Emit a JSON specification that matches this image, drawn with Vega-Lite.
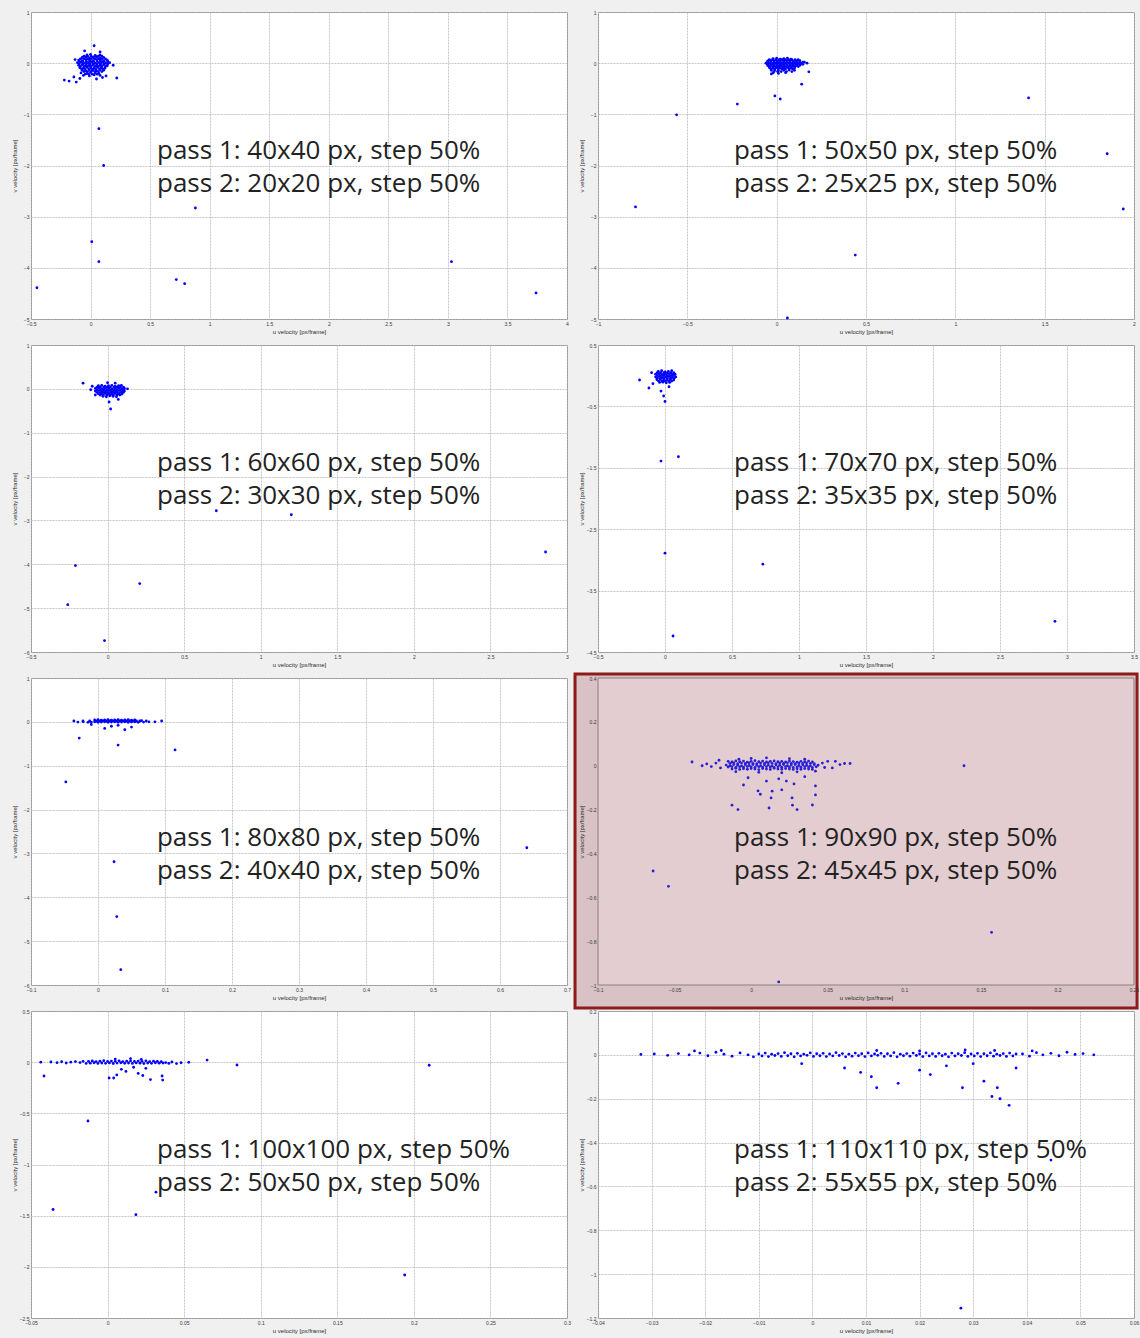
{
  "$schema": "https://vega.github.io/schema/vega-lite/v6.json",
  "background": "#f0f0f0",
  "padding": {"left": 10, "top": 9, "right": 2, "bottom": 6},
  "config": {
    "view": {"stroke": "#8c8c8c", "strokeWidth": 1, "fill": "#ffffff"},
    "axis": {
      "labelFont": "Liberation Sans", "titleFont": "Liberation Sans",
      "labelFontSize": 5, "titleFontSize": 6, "titleFontWeight": "normal",
      "labelColor": "#3a3a3a", "titleColor": "#2a2a2a",
      "domain": false, "ticks": false, "labelFlush": false, "labelOverlap": false,
      "gridColor": "#b8b8b8", "gridDash": [2, 1], "gridWidth": 0.8
    },
    "axisX": {"labelPadding": 2, "minExtent": 8, "maxExtent": 8, "titlePadding": 1},
    "axisY": {"labelPadding": 2, "minExtent": 11, "maxExtent": 11, "titlePadding": 3},
    "circle": {"size": 8, "color": "#0000ff", "opacity": 1},
    "text": {"font": "Open Sans", "fontSize": 26, "lineHeight": 33, "color": "#222222", "align": "left", "baseline": "alphabetic"}
  },
  "datasets": {
    "p1": [
      {"u":-0.03,"v":0.16},{"u":0.0,"v":0.17},{"u":0.04,"v":0.15},{"u":0.08,"v":0.16},
      {"u":-0.055,"v":0.135},{"u":-0.025,"v":0.135},{"u":0.005,"v":0.135},{"u":0.035,"v":0.135},{"u":0.065,"v":0.135},{"u":0.095,"v":0.135},
      {"u":-0.07,"v":0.11},{"u":-0.04,"v":0.12},{"u":-0.01,"v":0.1},{"u":0.02,"v":0.11},{"u":0.05,"v":0.12},{"u":0.08,"v":0.1},{"u":0.11,"v":0.11},
      {"u":-0.085,"v":0.085},{"u":-0.055,"v":0.085},{"u":-0.025,"v":0.085},{"u":0.005,"v":0.085},{"u":0.035,"v":0.085},{"u":0.065,"v":0.085},{"u":0.095,"v":0.085},{"u":0.125,"v":0.085},
      {"u":-0.1,"v":0.06},{"u":-0.07,"v":0.05},{"u":-0.04,"v":0.07},{"u":-0.01,"v":0.06},{"u":0.02,"v":0.05},{"u":0.05,"v":0.07},{"u":0.08,"v":0.06},{"u":0.11,"v":0.05},{"u":0.14,"v":0.06},
      {"u":-0.095,"v":0.035},{"u":-0.065,"v":0.035},{"u":-0.035,"v":0.035},{"u":-0.005,"v":0.035},{"u":0.025,"v":0.035},{"u":0.055,"v":0.035},{"u":0.085,"v":0.035},{"u":0.115,"v":0.035},{"u":0.145,"v":0.035},
      {"u":-0.11,"v":0.01},{"u":-0.08,"v":0.02},{"u":-0.05,"v":0.0},{"u":-0.02,"v":0.01},{"u":0.01,"v":0.02},{"u":0.04,"v":0.0},{"u":0.07,"v":0.01},{"u":0.1,"v":0.02},{"u":0.13,"v":0.0},{"u":0.16,"v":0.01},
      {"u":-0.095,"v":-0.015},{"u":-0.065,"v":-0.015},{"u":-0.035,"v":-0.015},{"u":-0.005,"v":-0.015},{"u":0.025,"v":-0.015},{"u":0.055,"v":-0.015},{"u":0.085,"v":-0.015},{"u":0.115,"v":-0.015},{"u":0.145,"v":-0.015},
      {"u":-0.1,"v":-0.04},{"u":-0.07,"v":-0.03},{"u":-0.04,"v":-0.05},{"u":-0.01,"v":-0.04},{"u":0.02,"v":-0.03},{"u":0.05,"v":-0.05},{"u":0.08,"v":-0.04},{"u":0.11,"v":-0.03},{"u":0.14,"v":-0.05},
      {"u":-0.085,"v":-0.065},{"u":-0.055,"v":-0.065},{"u":-0.025,"v":-0.065},{"u":0.005,"v":-0.065},{"u":0.035,"v":-0.065},{"u":0.065,"v":-0.065},{"u":0.095,"v":-0.065},{"u":0.125,"v":-0.065},
      {"u":-0.09,"v":-0.09},{"u":-0.06,"v":-0.1},{"u":-0.03,"v":-0.08},{"u":0.0,"v":-0.09},{"u":0.03,"v":-0.1},{"u":0.06,"v":-0.08},{"u":0.09,"v":-0.09},{"u":0.12,"v":-0.1},
      {"u":-0.075,"v":-0.115},{"u":-0.045,"v":-0.115},{"u":-0.015,"v":-0.115},{"u":0.015,"v":-0.115},{"u":0.045,"v":-0.115},{"u":0.075,"v":-0.115},{"u":0.105,"v":-0.115},
      {"u":-0.07,"v":-0.14},{"u":-0.04,"v":-0.15},{"u":-0.01,"v":-0.13},{"u":0.02,"v":-0.14},{"u":0.05,"v":-0.15},{"u":0.08,"v":-0.13},{"u":0.11,"v":-0.14},
      {"u":-0.055,"v":-0.165},{"u":-0.025,"v":-0.165},{"u":0.005,"v":-0.165},{"u":0.035,"v":-0.165},{"u":0.065,"v":-0.165},{"u":0.095,"v":-0.165},
      {"u":-0.08,"v":-0.19},{"u":-0.03,"v":-0.2},{"u":0.0,"v":-0.18},{"u":0.04,"v":-0.19},{"u":0.07,"v":-0.2},
      {"u":-0.045,"v":-0.215},{"u":-0.015,"v":-0.215},{"u":0.015,"v":-0.215},{"u":0.055,"v":-0.215},
      {"u":-0.06,"v":-0.24},{"u":-0.01,"v":-0.25},{"u":0.03,"v":-0.23},{"u":0.08,"v":-0.24},
      {"u":0.03,"v":0.34},{"u":-0.22,"v":-0.33},{"u":-0.18,"v":-0.35},{"u":-0.12,"v":-0.37},{"u":0.22,"v":-0.29},{"u":-0.14,"v":-0.27},{"u":0.13,"v":-0.25},{"u":-0.13,"v":0.07},{"u":0.19,"v":-0.04},{"u":0.08,"v":0.22},{"u":-0.05,"v":0.24},{"u":0.05,"v":-0.31},{"u":0.1,"v":-0.28},{"u":-0.09,"v":-0.3},
      {"u":0.07,"v":-1.28},{"u":0.11,"v":-2.0},{"u":0.01,"v":-3.49},{"u":0.07,"v":-3.88},{"u":0.88,"v":-2.83},{"u":0.72,"v":-4.23},{"u":0.79,"v":-4.31},{"u":-0.45,"v":-4.39},{"u":3.03,"v":-3.88},{"u":3.74,"v":-4.49}
    ],
    "p2": [
      {"u":-0.02,"v":0.09},{"u":0.0,"v":0.1},{"u":0.02,"v":0.08},{"u":0.04,"v":0.09},{"u":0.06,"v":0.1},{"u":0.08,"v":0.08},
      {"u":-0.041,"v":0.067},{"u":-0.023,"v":0.067},{"u":-0.005,"v":0.067},{"u":0.013,"v":0.067},{"u":0.031,"v":0.067},{"u":0.049,"v":0.067},{"u":0.067,"v":0.067},{"u":0.085,"v":0.067},{"u":0.103,"v":0.067},
      {"u":-0.05,"v":0.045},{"u":-0.032,"v":0.05},{"u":-0.014,"v":0.04},{"u":0.004,"v":0.045},{"u":0.022,"v":0.05},{"u":0.04,"v":0.04},{"u":0.058,"v":0.045},{"u":0.076,"v":0.05},{"u":0.094,"v":0.04},{"u":0.112,"v":0.045},{"u":0.13,"v":0.05},
      {"u":-0.051,"v":0.022},{"u":-0.033,"v":0.022},{"u":-0.015,"v":0.022},{"u":0.003,"v":0.022},{"u":0.021,"v":0.022},{"u":0.039,"v":0.022},{"u":0.057,"v":0.022},{"u":0.075,"v":0.022},{"u":0.093,"v":0.022},{"u":0.111,"v":0.022},{"u":0.129,"v":0.022},{"u":0.147,"v":0.022},
      {"u":-0.06,"v":0.0},{"u":-0.042,"v":0.005},{"u":-0.024,"v":-0.005},{"u":-0.006,"v":0.0},{"u":0.012,"v":0.005},{"u":0.03,"v":-0.005},{"u":0.048,"v":0.0},{"u":0.066,"v":0.005},{"u":0.084,"v":-0.005},{"u":0.102,"v":0.0},{"u":0.12,"v":0.005},{"u":0.138,"v":-0.005},{"u":0.155,"v":0.02},
      {"u":-0.051,"v":-0.022},{"u":-0.033,"v":-0.022},{"u":-0.015,"v":-0.022},{"u":0.003,"v":-0.022},{"u":0.021,"v":-0.022},{"u":0.039,"v":-0.022},{"u":0.057,"v":-0.022},{"u":0.075,"v":-0.022},{"u":0.093,"v":-0.022},{"u":0.111,"v":-0.022},{"u":0.129,"v":-0.022},{"u":0.147,"v":-0.022},
      {"u":-0.05,"v":-0.045},{"u":-0.032,"v":-0.04},{"u":-0.014,"v":-0.05},{"u":0.004,"v":-0.045},{"u":0.022,"v":-0.04},{"u":0.04,"v":-0.05},{"u":0.058,"v":-0.045},{"u":0.076,"v":-0.04},{"u":0.094,"v":-0.05},{"u":0.112,"v":-0.045},{"u":0.13,"v":-0.04},
      {"u":-0.041,"v":-0.067},{"u":-0.023,"v":-0.067},{"u":-0.005,"v":-0.067},{"u":0.013,"v":-0.067},{"u":0.031,"v":-0.067},{"u":0.049,"v":-0.067},{"u":0.067,"v":-0.067},{"u":0.085,"v":-0.067},{"u":0.103,"v":-0.067},{"u":0.121,"v":-0.067},
      {"u":-0.04,"v":-0.09},{"u":-0.02,"v":-0.095},{"u":0.0,"v":-0.085},{"u":0.02,"v":-0.09},{"u":0.04,"v":-0.095},{"u":0.06,"v":-0.085},{"u":0.08,"v":-0.09},{"u":0.1,"v":-0.095},
      {"u":-0.031,"v":-0.112},{"u":-0.011,"v":-0.112},{"u":0.009,"v":-0.112},{"u":0.029,"v":-0.112},{"u":0.049,"v":-0.112},{"u":0.069,"v":-0.112},{"u":0.089,"v":-0.112},
      {"u":-0.03,"v":-0.14},{"u":-0.01,"v":-0.135},{"u":0.01,"v":-0.145},{"u":0.04,"v":-0.14},{"u":0.07,"v":-0.135},{"u":0.1,"v":-0.14},
      {"u":-0.015,"v":-0.165},{"u":0.005,"v":-0.165},{"u":0.025,"v":-0.165},{"u":0.055,"v":-0.165},{"u":0.085,"v":-0.165},
      {"u":-0.02,"v":-0.19},{"u":0.01,"v":-0.2},{"u":0.05,"v":-0.185},
      {"u":0.17,"v":0.0},{"u":-0.03,"v":-0.21},{"u":0.12,"v":0.07},
      {"u":0.18,"v":-0.17},{"u":0.14,"v":-0.41},{"u":-0.01,"v":-0.64},{"u":0.02,"v":-0.7},{"u":-0.22,"v":-0.8},{"u":-0.56,"v":-1.01},{"u":-0.79,"v":-2.81},{"u":0.44,"v":-3.75},{"u":0.06,"v":-4.98},{"u":1.41,"v":-0.68},{"u":1.85,"v":-1.77},{"u":1.94,"v":-2.85}
    ],
    "p3": [
      {"u":-0.06,"v":0.07},{"u":-0.038,"v":0.08},{"u":-0.016,"v":0.06},{"u":0.006,"v":0.07},{"u":0.028,"v":0.08},{"u":0.05,"v":0.06},{"u":0.072,"v":0.07},{"u":0.09,"v":0.08},
      {"u":-0.069,"v":0.04},{"u":-0.047,"v":0.04},{"u":-0.025,"v":0.04},{"u":-0.003,"v":0.04},{"u":0.019,"v":0.04},{"u":0.041,"v":0.04},{"u":0.063,"v":0.04},{"u":0.085,"v":0.04},{"u":0.104,"v":0.04},
      {"u":-0.08,"v":0.01},{"u":-0.058,"v":0.02},{"u":-0.036,"v":0.0},{"u":-0.014,"v":0.01},{"u":0.008,"v":0.02},{"u":0.03,"v":0.0},{"u":0.052,"v":0.01},{"u":0.074,"v":0.02},{"u":0.096,"v":0.0},{"u":0.11,"v":0.01},
      {"u":-0.069,"v":-0.02},{"u":-0.047,"v":-0.02},{"u":-0.025,"v":-0.02},{"u":-0.003,"v":-0.02},{"u":0.019,"v":-0.02},{"u":0.041,"v":-0.02},{"u":0.063,"v":-0.02},{"u":0.085,"v":-0.02},{"u":0.105,"v":-0.02},
      {"u":-0.08,"v":-0.05},{"u":-0.058,"v":-0.04},{"u":-0.036,"v":-0.06},{"u":-0.014,"v":-0.05},{"u":0.008,"v":-0.04},{"u":0.03,"v":-0.06},{"u":0.052,"v":-0.05},{"u":0.074,"v":-0.04},{"u":0.096,"v":-0.06},{"u":0.11,"v":-0.05},
      {"u":-0.069,"v":-0.08},{"u":-0.047,"v":-0.08},{"u":-0.025,"v":-0.08},{"u":-0.003,"v":-0.08},{"u":0.019,"v":-0.08},{"u":0.041,"v":-0.08},{"u":0.063,"v":-0.08},{"u":0.085,"v":-0.08},{"u":0.104,"v":-0.08},
      {"u":-0.06,"v":-0.11},{"u":-0.038,"v":-0.12},{"u":-0.016,"v":-0.1},{"u":0.006,"v":-0.11},{"u":0.028,"v":-0.12},{"u":0.05,"v":-0.1},{"u":0.072,"v":-0.11},{"u":0.094,"v":-0.12},
      {"u":-0.049,"v":-0.14},{"u":-0.027,"v":-0.14},{"u":-0.005,"v":-0.14},{"u":0.017,"v":-0.14},{"u":0.039,"v":-0.14},{"u":0.061,"v":-0.14},{"u":0.08,"v":-0.14},
      {"u":-0.03,"v":-0.17},{"u":-0.008,"v":-0.18},{"u":0.014,"v":-0.16},{"u":0.036,"v":-0.17},{"u":0.058,"v":-0.18},
      {"u":-0.16,"v":0.13},{"u":-0.11,"v":-0.02},{"u":0.13,"v":0.0},{"u":-0.08,"v":-0.14},{"u":0.01,"v":-0.3},{"u":0.02,"v":-0.46},{"u":0.07,"v":-0.24},{"u":0.0,"v":0.14},{"u":0.05,"v":0.13},{"u":-0.1,"v":0.06},
      {"u":0.71,"v":-2.78},{"u":1.2,"v":-2.87},{"u":-0.21,"v":-4.03},{"u":0.21,"v":-4.44},{"u":-0.26,"v":-4.92},{"u":-0.02,"v":-5.74},{"u":2.86,"v":-3.72}
    ],
    "p4": [
      {"u":-0.05,"v":0.07},{"u":-0.025,"v":0.08},{"u":0.0,"v":0.06},{"u":0.025,"v":0.07},{"u":0.05,"v":0.08},
      {"u":-0.058,"v":0.048},{"u":-0.033,"v":0.048},{"u":-0.008,"v":0.048},{"u":0.018,"v":0.048},{"u":0.043,"v":0.048},{"u":0.065,"v":0.048},
      {"u":-0.07,"v":0.025},{"u":-0.045,"v":0.03},{"u":-0.02,"v":0.02},{"u":0.005,"v":0.025},{"u":0.03,"v":0.03},{"u":0.055,"v":0.02},{"u":0.075,"v":0.025},
      {"u":-0.058,"v":0.002},{"u":-0.033,"v":0.002},{"u":-0.008,"v":0.002},{"u":0.018,"v":0.002},{"u":0.043,"v":0.002},{"u":0.068,"v":0.002},
      {"u":-0.07,"v":-0.02},{"u":-0.045,"v":-0.015},{"u":-0.02,"v":-0.025},{"u":0.005,"v":-0.02},{"u":0.03,"v":-0.015},{"u":0.055,"v":-0.025},{"u":0.08,"v":-0.02},
      {"u":-0.058,"v":-0.043},{"u":-0.033,"v":-0.043},{"u":-0.008,"v":-0.043},{"u":0.018,"v":-0.043},{"u":0.043,"v":-0.043},{"u":0.068,"v":-0.043},
      {"u":-0.06,"v":-0.065},{"u":-0.035,"v":-0.06},{"u":-0.01,"v":-0.07},{"u":0.015,"v":-0.065},{"u":0.04,"v":-0.06},{"u":0.065,"v":-0.07},
      {"u":-0.048,"v":-0.088},{"u":-0.023,"v":-0.088},{"u":0.003,"v":-0.088},{"u":0.028,"v":-0.088},{"u":0.05,"v":-0.088},
      {"u":-0.04,"v":-0.11},{"u":-0.015,"v":-0.105},{"u":0.01,"v":-0.115},{"u":0.035,"v":-0.11},
      {"u":-0.19,"v":-0.07},{"u":-0.12,"v":-0.2},{"u":-0.03,"v":-0.25},{"u":-0.01,"v":-0.33},{"u":0.03,"v":-0.18},{"u":-0.09,"v":-0.13},{"u":0.0,"v":-0.42},{"u":-0.1,"v":0.05},
      {"u":-0.03,"v":-1.39},{"u":0.1,"v":-1.32},{"u":0.0,"v":-2.89},{"u":0.06,"v":-4.24},{"u":0.73,"v":-3.07},{"u":2.91,"v":-4.0}
    ],
    "p5": [
      {"u":-0.005,"v":0.045},{"u":0.0,"v":0.05},{"u":0.005,"v":0.04},{"u":0.01,"v":0.045},{"u":0.015,"v":0.05},{"u":0.02,"v":0.04},{"u":0.025,"v":0.045},{"u":0.03,"v":0.05},{"u":0.035,"v":0.04},{"u":0.04,"v":0.045},{"u":0.045,"v":0.05},{"u":0.05,"v":0.04},{"u":0.055,"v":0.045},
      {"u":-0.0225,"v":0.02},{"u":-0.0125,"v":0.02},{"u":-0.0025,"v":0.02},{"u":0.0025,"v":0.02},{"u":0.0075,"v":0.02},{"u":0.0125,"v":0.02},{"u":0.0175,"v":0.02},{"u":0.0225,"v":0.02},{"u":0.0275,"v":0.02},{"u":0.0325,"v":0.02},{"u":0.0375,"v":0.02},{"u":0.0425,"v":0.02},{"u":0.0475,"v":0.02},{"u":0.0525,"v":0.02},{"u":0.0575,"v":0.02},{"u":0.0625,"v":0.02},{"u":0.072,"v":0.02},
      {"u":-0.03,"v":-0.005},{"u":-0.022,"v":0.0},{"u":-0.015,"v":-0.01},{"u":-0.01,"v":-0.005},{"u":-0.005,"v":0.0},{"u":0.0,"v":-0.01},{"u":0.005,"v":-0.005},{"u":0.01,"v":0.0},{"u":0.015,"v":-0.01},{"u":0.02,"v":-0.005},{"u":0.025,"v":0.0},{"u":0.03,"v":-0.01},{"u":0.035,"v":-0.005},{"u":0.04,"v":0.0},{"u":0.045,"v":-0.01},{"u":0.05,"v":-0.005},{"u":0.055,"v":0.0},{"u":0.06,"v":-0.01},{"u":0.068,"v":-0.005},{"u":0.076,"v":0.0},
      {"u":-0.036,"v":0.02},{"u":0.095,"v":0.02},{"u":0.065,"v":0.03},{"u":0.085,"v":0.0},{"u":0.01,"v":-0.15},{"u":0.04,"v":-0.18},{"u":0.02,"v":-0.1},{"u":0.05,"v":-0.12},{"u":0.03,"v":-0.08},{"u":-0.01,"v":-0.06},
      {"u":-0.028,"v":-0.37},{"u":0.03,"v":-0.53},{"u":0.115,"v":-0.64},{"u":-0.048,"v":-1.37},{"u":0.024,"v":-3.19},{"u":0.028,"v":-4.44},{"u":0.034,"v":-5.65},{"u":0.64,"v":-2.87}
    ],
    "p6": [
      {"u":-0.015,"v":0.02},{"u":-0.0125,"v":0.017},{"u":-0.01,"v":0.022},{"u":-0.0075,"v":0.018},{"u":-0.005,"v":0.021},{"u":-0.0025,"v":0.016},{"u":0.0,"v":0.02},{"u":0.0025,"v":0.023},{"u":0.005,"v":0.018},{"u":0.0075,"v":0.021},{"u":0.01,"v":0.017},{"u":0.0125,"v":0.02},{"u":0.015,"v":0.022},{"u":0.0175,"v":0.018},{"u":0.02,"v":0.02},{"u":0.0225,"v":0.017},{"u":0.025,"v":0.021},{"u":0.0275,"v":0.019},{"u":0.03,"v":0.016},{"u":0.0325,"v":0.02},{"u":0.035,"v":0.018},{"u":0.0375,"v":0.021},{"u":0.04,"v":0.017},
      {"u":-0.0138,"v":0.011},{"u":-0.0113,"v":0.013},{"u":-0.0088,"v":0.009},{"u":-0.0063,"v":0.012},{"u":-0.0038,"v":0.01},{"u":-0.0013,"v":0.013},{"u":0.0012,"v":0.011},{"u":0.0037,"v":0.009},{"u":0.0062,"v":0.012},{"u":0.0087,"v":0.01},{"u":0.0112,"v":0.013},{"u":0.0137,"v":0.011},{"u":0.0162,"v":0.009},{"u":0.0187,"v":0.012},{"u":0.0212,"v":0.01},{"u":0.0237,"v":0.013},{"u":0.0262,"v":0.011},{"u":0.0287,"v":0.009},{"u":0.0312,"v":0.012},{"u":0.0337,"v":0.01},{"u":0.0362,"v":0.013},{"u":0.0387,"v":0.011},{"u":0.0412,"v":0.009},
      {"u":-0.0163,"v":0.003},{"u":-0.0138,"v":0.0},{"u":-0.0113,"v":0.005},{"u":-0.0088,"v":0.002},{"u":-0.0063,"v":-0.001},{"u":-0.0038,"v":0.004},{"u":-0.0013,"v":0.001},{"u":0.0012,"v":0.005},{"u":0.0037,"v":0.002},{"u":0.0062,"v":0.0},{"u":0.0087,"v":0.004},{"u":0.0112,"v":0.003},{"u":0.0137,"v":-0.001},{"u":0.0162,"v":0.004},{"u":0.0187,"v":0.002},{"u":0.0212,"v":0.005},{"u":0.0237,"v":0.0},{"u":0.0262,"v":0.003},{"u":0.0287,"v":0.005},{"u":0.0312,"v":0.001},{"u":0.0337,"v":0.004},{"u":0.0362,"v":0.002},{"u":0.0387,"v":0.0},{"u":0.0412,"v":0.004},{"u":0.0437,"v":0.002},
      {"u":-0.015,"v":-0.006},{"u":-0.0125,"v":-0.004},{"u":-0.01,"v":-0.008},{"u":-0.0075,"v":-0.005},{"u":-0.005,"v":-0.007},{"u":-0.0025,"v":-0.004},{"u":0.0,"v":-0.006},{"u":0.0025,"v":-0.008},{"u":0.005,"v":-0.005},{"u":0.0075,"v":-0.007},{"u":0.01,"v":-0.004},{"u":0.0125,"v":-0.006},{"u":0.015,"v":-0.008},{"u":0.0175,"v":-0.005},{"u":0.02,"v":-0.007},{"u":0.0225,"v":-0.004},{"u":0.025,"v":-0.006},{"u":0.0275,"v":-0.008},{"u":0.03,"v":-0.005},{"u":0.0325,"v":-0.007},{"u":0.035,"v":-0.004},{"u":0.0375,"v":-0.006},{"u":0.04,"v":-0.008},{"u":0.0425,"v":-0.005},
      {"u":-0.0125,"v":-0.015},{"u":-0.01,"v":-0.012},{"u":-0.0075,"v":-0.017},{"u":-0.005,"v":-0.014},{"u":-0.0025,"v":-0.016},{"u":0.0,"v":-0.013},{"u":0.0025,"v":-0.015},{"u":0.005,"v":-0.018},{"u":0.0075,"v":-0.013},{"u":0.01,"v":-0.015},{"u":0.0125,"v":-0.017},{"u":0.015,"v":-0.012},{"u":0.0175,"v":-0.015},{"u":0.02,"v":-0.016},{"u":0.0225,"v":-0.013},{"u":0.025,"v":-0.015},{"u":0.0275,"v":-0.017},{"u":0.03,"v":-0.014},{"u":0.0325,"v":-0.016},{"u":0.035,"v":-0.013},{"u":0.0375,"v":-0.015},{"u":0.04,"v":-0.017},
      {"u":-0.0386,"v":0.017},{"u":-0.032,"v":0.0},{"u":-0.029,"v":0.008},{"u":-0.026,"v":-0.004},{"u":-0.023,"v":0.012},{"u":-0.02,"v":-0.01},{"u":-0.021,"v":0.025},{"u":0.0465,"v":0.012},{"u":0.048,"v":-0.008},{"u":0.05,"v":0.02},{"u":0.053,"v":-0.01},{"u":0.055,"v":0.02},{"u":0.058,"v":0.005},{"u":0.061,"v":0.01},{"u":0.0646,"v":0.01},{"u":0.0,"v":0.033},{"u":0.01,"v":0.036},{"u":0.025,"v":0.032},{"u":0.035,"v":0.03},{"u":-0.008,"v":0.03},{"u":0.005,"v":-0.03},{"u":0.02,"v":-0.032},{"u":0.03,"v":-0.028},{"u":-0.01,"v":-0.027},{"u":0.042,"v":-0.025},{"u":0.139,"v":0.0},
      {"u":-0.005,"v":-0.088},{"u":0.0045,"v":-0.115},{"u":0.006,"v":-0.13},{"u":0.01,"v":-0.07},{"u":0.0137,"v":-0.116},{"u":0.02,"v":-0.11},{"u":0.013,"v":-0.147},{"u":0.0117,"v":-0.193},{"u":0.0267,"v":-0.147},{"u":0.027,"v":-0.18},{"u":0.03,"v":-0.2},{"u":0.028,"v":-0.083},{"u":0.042,"v":-0.092},{"u":0.042,"v":-0.133},{"u":0.04,"v":-0.179},{"u":-0.0125,"v":-0.18},{"u":-0.0086,"v":-0.2},{"u":0.018,"v":-0.06},{"u":0.023,"v":-0.07},{"u":0.035,"v":-0.05},{"u":-0.002,"v":-0.055},
      {"u":-0.064,"v":-0.48},{"u":-0.054,"v":-0.55},{"u":0.157,"v":-0.76},{"u":0.018,"v":-0.986}
    ],
    "p7": [
      {"u":-0.0125,"v":0.008},{"u":-0.01,"v":0.012},{"u":-0.0075,"v":0.006},{"u":-0.005,"v":0.01},{"u":-0.0025,"v":0.014},{"u":0.0,"v":0.007},{"u":0.0025,"v":0.011},{"u":0.005,"v":0.008},{"u":0.0075,"v":0.013},{"u":0.01,"v":0.006},{"u":0.0125,"v":0.01},{"u":0.015,"v":0.012},{"u":0.0175,"v":0.007},{"u":0.02,"v":0.011},{"u":0.0225,"v":0.008},{"u":0.025,"v":0.013},{"u":0.0275,"v":0.006},{"u":0.03,"v":0.01},{"u":0.0325,"v":0.008},{"u":0.035,"v":0.005},
      {"u":-0.0113,"v":-0.01},{"u":-0.0088,"v":-0.006},{"u":-0.0063,"v":-0.012},{"u":-0.0038,"v":-0.008},{"u":-0.0013,"v":-0.011},{"u":0.0012,"v":-0.007},{"u":0.0037,"v":-0.013},{"u":0.0062,"v":-0.009},{"u":0.0087,"v":-0.006},{"u":0.0112,"v":-0.011},{"u":0.0137,"v":-0.008},{"u":0.0162,"v":-0.012},{"u":0.0187,"v":-0.007},{"u":0.0212,"v":-0.01},{"u":0.0237,"v":-0.013},{"u":0.0262,"v":-0.008},{"u":0.0287,"v":-0.011},{"u":0.0312,"v":-0.006},{"u":0.0337,"v":-0.01},{"u":0.0362,"v":-0.008},
      {"u":-0.0436,"v":0.0},{"u":-0.037,"v":0.002},{"u":-0.033,"v":-0.005},{"u":-0.03,"v":0.004},{"u":-0.027,"v":-0.008},{"u":-0.024,"v":0.0},{"u":-0.021,"v":0.006},{"u":-0.018,"v":-0.004},{"u":-0.016,"v":0.008},{"u":-0.014,"v":-0.012},
      {"u":0.038,"v":-0.004},{"u":0.04,"v":-0.012},{"u":0.042,"v":0.002},{"u":0.045,"v":-0.014},{"u":0.048,"v":-0.006},{"u":0.053,"v":-0.002},
      {"u":0.065,"v":0.02},{"u":0.0845,"v":-0.028},{"u":-0.0415,"v":-0.135},{"u":0.001,"v":-0.155},{"u":0.004,"v":-0.155},{"u":0.006,"v":-0.125},{"u":0.012,"v":-0.09},{"u":0.02,"v":-0.11},{"u":0.023,"v":-0.13},{"u":0.028,"v":-0.17},{"u":0.0356,"v":-0.135},{"u":0.036,"v":-0.175},{"u":0.017,"v":-0.05},{"u":0.025,"v":-0.06},{"u":0.009,"v":-0.07},{"u":0.005,"v":0.03},{"u":0.015,"v":0.035},{"u":0.022,"v":0.028},
      {"u":-0.0128,"v":-0.575},{"u":-0.0356,"v":-1.44},{"u":0.0316,"v":-1.27},{"u":0.0185,"v":-1.49},{"u":0.21,"v":-0.03},{"u":0.194,"v":-2.08}
    ],
    "p8": [
      {"u":-0.01,"v":0.004},{"u":-0.0088,"v":0.008},{"u":-0.0076,"v":0.003},{"u":-0.0064,"v":0.006},{"u":-0.0052,"v":0.01},{"u":-0.004,"v":0.005},{"u":-0.0028,"v":0.007},{"u":-0.0016,"v":0.003},{"u":-0.0004,"v":0.009},{"u":0.0008,"v":0.005},{"u":0.002,"v":0.007},{"u":0.0032,"v":0.004},{"u":0.0044,"v":0.01},{"u":0.0056,"v":0.006},{"u":0.0068,"v":0.003},{"u":0.008,"v":0.008},{"u":0.0092,"v":0.005},{"u":0.0104,"v":0.009},{"u":0.0116,"v":0.004},{"u":0.0128,"v":0.007},{"u":0.014,"v":0.005},{"u":0.0152,"v":0.01},{"u":0.0164,"v":0.003},{"u":0.0176,"v":0.006},{"u":0.0188,"v":0.008},{"u":0.02,"v":0.004},{"u":0.0212,"v":0.009},{"u":0.0224,"v":0.005},{"u":0.0236,"v":0.007},{"u":0.0248,"v":0.003},{"u":0.026,"v":0.008},{"u":0.0272,"v":0.005},{"u":0.0284,"v":0.01},{"u":0.0296,"v":0.004},{"u":0.0308,"v":0.007},{"u":0.032,"v":0.005},{"u":0.0332,"v":0.009},{"u":0.0344,"v":0.003},{"u":0.0356,"v":0.006},{"u":0.0368,"v":0.008},{"u":0.038,"v":0.004},
      {"u":-0.0094,"v":-0.005},{"u":-0.0082,"v":-0.008},{"u":-0.007,"v":-0.003},{"u":-0.0058,"v":-0.007},{"u":-0.0046,"v":-0.004},{"u":-0.0034,"v":-0.009},{"u":-0.0022,"v":-0.005},{"u":-0.001,"v":-0.002},{"u":0.0002,"v":-0.007},{"u":0.0014,"v":-0.004},{"u":0.0026,"v":-0.008},{"u":0.0038,"v":-0.005},{"u":0.005,"v":-0.003},{"u":0.0062,"v":-0.009},{"u":0.0074,"v":-0.006},{"u":0.0086,"v":-0.004},{"u":0.0098,"v":-0.008},{"u":0.011,"v":-0.005},{"u":0.0122,"v":-0.002},{"u":0.0134,"v":-0.007},{"u":0.0146,"v":-0.005},{"u":0.0158,"v":-0.009},{"u":0.017,"v":-0.004},{"u":0.0182,"v":-0.006},{"u":0.0194,"v":-0.003},{"u":0.0206,"v":-0.008},{"u":0.0218,"v":-0.005},{"u":0.023,"v":-0.007},{"u":0.0242,"v":-0.004},{"u":0.0254,"v":-0.009},{"u":0.0266,"v":-0.005},{"u":0.0278,"v":-0.003},{"u":0.029,"v":-0.007},{"u":0.0302,"v":-0.005},{"u":0.0314,"v":-0.008},{"u":0.0326,"v":-0.004},{"u":0.0338,"v":-0.006},{"u":0.035,"v":-0.003},{"u":0.0362,"v":-0.007},{"u":0.0374,"v":-0.005},
      {"u":-0.032,"v":0.002},{"u":-0.0295,"v":0.004},{"u":-0.027,"v":-0.002},{"u":-0.025,"v":0.006},{"u":-0.023,"v":0.0},{"u":-0.021,"v":0.008},{"u":-0.0195,"v":-0.004},{"u":-0.018,"v":0.012},{"u":-0.0165,"v":0.003},{"u":-0.015,"v":-0.006},{"u":-0.0135,"v":0.009},{"u":-0.012,"v":0.0},{"u":-0.011,"v":-0.009},{"u":-0.022,"v":0.018},{"u":-0.017,"v":0.02},
      {"u":0.0392,"v":0.004},{"u":0.0405,"v":-0.006},{"u":0.0418,"v":0.01},{"u":0.043,"v":0.0},{"u":0.0445,"v":0.007},{"u":0.046,"v":-0.004},{"u":0.0475,"v":0.012},{"u":0.049,"v":0.002},{"u":0.0505,"v":0.006},{"u":0.0525,"v":0.0},{"u":0.041,"v":0.018},{"u":0.0285,"v":0.022},{"u":0.034,"v":0.02},{"u":0.012,"v":0.02},{"u":0.02,"v":0.018},
      {"u":0.006,"v":-0.06},{"u":0.009,"v":-0.08},{"u":0.011,"v":-0.1},{"u":0.012,"v":-0.15},{"u":0.02,"v":-0.07},{"u":0.022,"v":-0.09},{"u":0.028,"v":-0.15},{"u":0.032,"v":-0.12},{"u":0.0335,"v":-0.19},{"u":0.0345,"v":-0.15},{"u":0.035,"v":-0.2},{"u":0.0367,"v":-0.23},{"u":0.016,"v":-0.13},{"u":0.025,"v":-0.05},{"u":-0.002,"v":-0.04},{"u":0.03,"v":-0.04},{"u":0.038,"v":-0.06},
      {"u":0.0277,"v":-1.155},{"u":0.0445,"v":-0.48}
    ]
  },
  "columns": 2,
  "spacing": {"row": 26, "column": 31},
  "bounds": "flush",
  "concat": [
    {
      "width": 536, "height": 307,
      "layer": [
        {"data": {"name": "p1"}, "mark": "circle",
         "encoding": {
           "x": {"field": "u", "type": "quantitative", "scale": {"domain": [-0.5, 4], "nice": false, "zero": false}, "axis": {"values": [-0.5, 0, 0.5, 1, 1.5, 2, 2.5, 3, 3.5, 4], "format": "~g", "title": "u velocity [px/frame]"}},
           "y": {"field": "v", "type": "quantitative", "scale": {"domain": [-5, 1], "nice": false, "zero": false}, "axis": {"values": [-5, -4, -3, -2, -1, 0, 1], "format": "~g", "title": "v velocity [px/frame]"}}}},
        {"data": {"values": [{"label": ["pass 1: 40x40 px, step 50%", "pass 2: 20x20 px, step 50%"]}]}, "mark": "text",
         "encoding": {
           "x": {"datum": 0.558, "type": "quantitative", "title": "u velocity [px/frame]"},
           "y": {"datum": -1.873, "type": "quantitative", "title": "v velocity [px/frame]"},
           "text": {"field": "label", "type": "nominal"}}}
      ]
    },
    {
      "width": 536, "height": 307,
      "layer": [
        {"data": {"name": "p2"}, "mark": "circle",
         "encoding": {
           "x": {"field": "u", "type": "quantitative", "scale": {"domain": [-1, 2], "nice": false, "zero": false}, "axis": {"values": [-1, -0.5, 0, 0.5, 1, 1.5, 2], "format": "~g", "title": "u velocity [px/frame]"}},
           "y": {"field": "v", "type": "quantitative", "scale": {"domain": [-5, 1], "nice": false, "zero": false}, "axis": {"values": [-5, -4, -3, -2, -1, 0, 1], "format": "~g", "title": "v velocity [px/frame]"}}}},
        {"data": {"values": [{"label": ["pass 1: 50x50 px, step 50%", "pass 2: 25x25 px, step 50%"]}]}, "mark": "text",
         "encoding": {
           "x": {"datum": -0.239, "type": "quantitative", "title": "u velocity [px/frame]"},
           "y": {"datum": -1.873, "type": "quantitative", "title": "v velocity [px/frame]"},
           "text": {"field": "label", "type": "nominal"}}}
      ]
    },
    {
      "width": 536, "height": 307,
      "layer": [
        {"data": {"name": "p3"}, "mark": "circle",
         "encoding": {
           "x": {"field": "u", "type": "quantitative", "scale": {"domain": [-0.5, 3], "nice": false, "zero": false}, "axis": {"values": [-0.5, 0, 0.5, 1, 1.5, 2, 2.5, 3], "format": "~g", "title": "u velocity [px/frame]"}},
           "y": {"field": "v", "type": "quantitative", "scale": {"domain": [-6, 1], "nice": false, "zero": false}, "axis": {"values": [-6, -5, -4, -3, -2, -1, 0, 1], "format": "~g", "title": "v velocity [px/frame]"}}}},
        {"data": {"values": [{"label": ["pass 1: 60x60 px, step 50%", "pass 2: 30x30 px, step 50%"]}]}, "mark": "text",
         "encoding": {
           "x": {"datum": 0.323, "type": "quantitative", "title": "u velocity [px/frame]"},
           "y": {"datum": -1.873, "type": "quantitative", "title": "v velocity [px/frame]"},
           "text": {"field": "label", "type": "nominal"}}}
      ]
    },
    {
      "width": 536, "height": 307,
      "layer": [
        {"data": {"name": "p4"}, "mark": "circle",
         "encoding": {
           "x": {"field": "u", "type": "quantitative", "scale": {"domain": [-0.5, 3.5], "nice": false, "zero": false}, "axis": {"values": [-0.5, 0, 0.5, 1, 1.5, 2, 2.5, 3, 3.5], "format": "~g", "title": "u velocity [px/frame]"}},
           "y": {"field": "v", "type": "quantitative", "scale": {"domain": [-4.5, 0.5], "nice": false, "zero": false}, "axis": {"values": [-4.5, -4, -3.5, -3, -2.5, -2, -1.5, -1, -0.5, 0, 0.5], "format": "~g", "title": "v velocity [px/frame]"}}}},
        {"data": {"values": [{"label": ["pass 1: 70x70 px, step 50%", "pass 2: 35x35 px, step 50%"]}]}, "mark": "text",
         "encoding": {
           "x": {"datum": 0.515, "type": "quantitative", "title": "u velocity [px/frame]"},
           "y": {"datum": -1.552, "type": "quantitative", "title": "v velocity [px/frame]"},
           "text": {"field": "label", "type": "nominal"}}}
      ]
    },
    {
      "width": 536, "height": 307,
      "layer": [
        {"data": {"name": "p5"}, "mark": "circle",
         "encoding": {
           "x": {"field": "u", "type": "quantitative", "scale": {"domain": [-0.1, 0.7], "nice": false, "zero": false}, "axis": {"values": [-0.1, 0, 0.1, 0.2, 0.3, 0.4, 0.5, 0.6, 0.7], "format": "~g", "title": "u velocity [px/frame]"}},
           "y": {"field": "v", "type": "quantitative", "scale": {"domain": [-6, 1], "nice": false, "zero": false}, "axis": {"values": [-6, -5, -4, -3, -2, -1, 0, 1], "format": "~g", "title": "v velocity [px/frame]"}}}},
        {"data": {"values": [{"label": ["pass 1: 80x80 px, step 50%", "pass 2: 40x40 px, step 50%"]}]}, "mark": "text",
         "encoding": {
           "x": {"datum": 0.088, "type": "quantitative", "title": "u velocity [px/frame]"},
           "y": {"datum": -2.83, "type": "quantitative", "title": "v velocity [px/frame]"},
           "text": {"field": "label", "type": "nominal"}}}
      ]
    },
    {
      "width": 536, "height": 307,
      "layer": [
        {"data": {"values": [{"frame": "panel"}]},
         "mark": {"type": "rect", "fill": "#d9c2c5", "stroke": "#8e1a1a", "strokeWidth": 3, "clip": false},
         "encoding": {
           "x": {"datum": -0.115, "type": "quantitative", "title": "u velocity [px/frame]"}, "x2": {"datum": 0.252},
           "y": {"datum": 0.418, "type": "quantitative", "title": "v velocity [px/frame]"}, "y2": {"datum": -1.105}}},
        {"data": {"values": [{"frame": "plot"}]},
         "mark": {"type": "rect", "fill": "#e3cdd0", "stroke": "#8c7d7f", "strokeWidth": 1},
         "encoding": {
           "x": {"datum": -0.1, "type": "quantitative", "title": "u velocity [px/frame]"}, "x2": {"datum": 0.25},
           "y": {"datum": 0.4, "type": "quantitative", "title": "v velocity [px/frame]"}, "y2": {"datum": -1}}},
        {"data": {"name": "p6"}, "mark": {"type": "circle", "color": "#2a1fd6"},
         "encoding": {
           "x": {"field": "u", "type": "quantitative", "scale": {"domain": [-0.1, 0.25], "nice": false, "zero": false}, "axis": {"values": [-0.1, -0.05, 0, 0.05, 0.1, 0.15, 0.2, 0.25], "format": "~g", "title": "u velocity [px/frame]", "zindex": 1, "gridColor": "#9a8c8e"}},
           "y": {"field": "v", "type": "quantitative", "scale": {"domain": [-1, 0.4], "nice": false, "zero": false}, "axis": {"values": [-1, -0.8, -0.6, -0.4, -0.2, 0, 0.2, 0.4], "format": "~g", "title": "v velocity [px/frame]", "zindex": 1, "gridColor": "#9a8c8e"}}}},
        {"data": {"values": [{"label": ["pass 1: 90x90 px, step 50%", "pass 2: 45x45 px, step 50%"]}]}, "mark": "text",
         "encoding": {
           "x": {"datum": -0.0112, "type": "quantitative", "title": "u velocity [px/frame]"},
           "y": {"datum": -0.366, "type": "quantitative", "title": "v velocity [px/frame]"},
           "text": {"field": "label", "type": "nominal"}}}
      ]
    },
    {
      "width": 536, "height": 307,
      "layer": [
        {"data": {"name": "p7"}, "mark": "circle",
         "encoding": {
           "x": {"field": "u", "type": "quantitative", "scale": {"domain": [-0.05, 0.3], "nice": false, "zero": false}, "axis": {"values": [-0.05, 0, 0.05, 0.1, 0.15, 0.2, 0.25, 0.3], "format": "~g", "title": "u velocity [px/frame]"}},
           "y": {"field": "v", "type": "quantitative", "scale": {"domain": [-2.5, 0.5], "nice": false, "zero": false}, "axis": {"values": [-2.5, -2, -1.5, -1, -0.5, 0, 0.5], "format": "~g", "title": "v velocity [px/frame]"}}}},
        {"data": {"values": [{"label": ["pass 1: 100x100 px, step 50%", "pass 2: 50x50 px, step 50%"]}]}, "mark": "text",
         "encoding": {
           "x": {"datum": 0.0323, "type": "quantitative", "title": "u velocity [px/frame]"},
           "y": {"datum": -0.937, "type": "quantitative", "title": "v velocity [px/frame]"},
           "text": {"field": "label", "type": "nominal"}}}
      ]
    },
    {
      "width": 536, "height": 307,
      "layer": [
        {"data": {"name": "p8"}, "mark": "circle",
         "encoding": {
           "x": {"field": "u", "type": "quantitative", "scale": {"domain": [-0.04, 0.06], "nice": false, "zero": false}, "axis": {"values": [-0.04, -0.03, -0.02, -0.01, 0, 0.01, 0.02, 0.03, 0.04, 0.05, 0.06], "format": "~g", "title": "u velocity [px/frame]"}},
           "y": {"field": "v", "type": "quantitative", "scale": {"domain": [-1.2, 0.2], "nice": false, "zero": false}, "axis": {"values": [-1.2, -1, -0.8, -0.6, -0.4, -0.2, 0, 0.2], "format": "~g", "title": "v velocity [px/frame]"}}}},
        {"data": {"values": [{"label": ["pass 1: 110x110 px, step 50%", "pass 2: 55x55 px, step 50%"]}]}, "mark": "text",
         "encoding": {
           "x": {"datum": -0.01463, "type": "quantitative", "title": "u velocity [px/frame]"},
           "y": {"datum": -0.47, "type": "quantitative", "title": "v velocity [px/frame]"},
           "text": {"field": "label", "type": "nominal"}}}
      ]
    }
  ]
}
